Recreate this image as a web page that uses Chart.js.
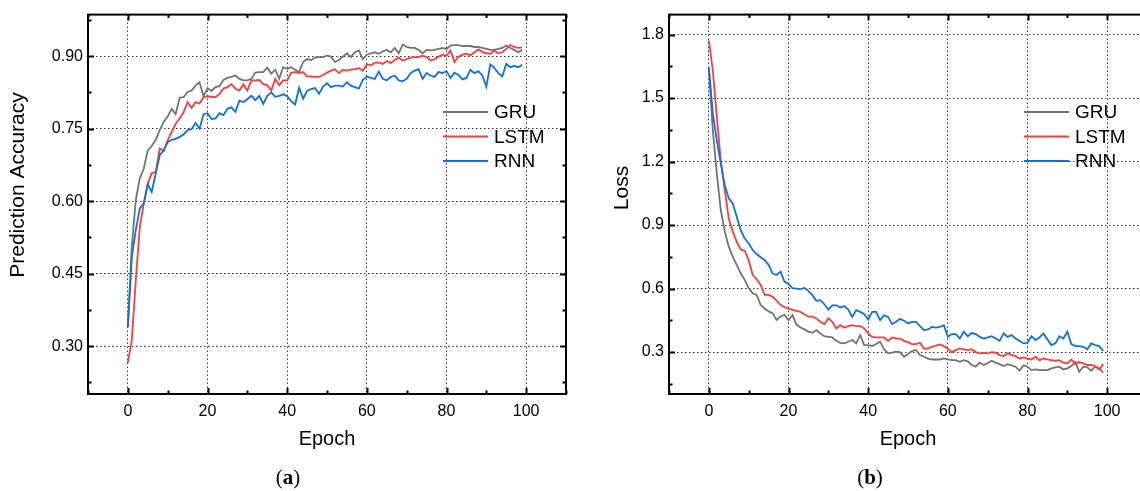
<!DOCTYPE html>
<html><head><meta charset="utf-8">
<script src="https://cdn.jsdelivr.net/npm/chart.js@4.4.1/dist/chart.umd.min.js"></script>
<style>
html,body{margin:0;padding:0;background:#fff;width:1140px;height:491px;overflow:hidden;}
body{position:relative;}
canvas{position:absolute;top:0;}
#ca{left:0}
#cb{left:581px}
.cap{position:absolute;top:465px;font:21px 'Liberation Serif',serif;color:#000;transform:translateX(-50%);white-space:nowrap;line-height:24px}
</style></head><body>
<canvas id="ca" width="580" height="491"></canvas>
<canvas id="cb" width="580" height="491"></canvas>
<div class="cap" style="left:288px">(<b>a</b>)</div>
<div class="cap" style="left:870px">(<b>b</b>)</div>
<script>
const epochs = [0,1,2,3,4,5,6,7,8,9,10,11,12,13,14,15,16,17,18,19,20,21,22,23,24,25,26,27,28,29,30,31,32,33,34,35,36,37,38,39,40,41,42,43,44,45,46,47,48,49,50,51,52,53,54,55,56,57,58,59,60,61,62,63,64,65,66,67,68,69,70,71,72,73,74,75,76,77,78,79,80,81,82,83,84,85,86,87,88,89,90,91,92,93,94,95,96,97,98,99];

const seriesNames = ['GRU','LSTM','RNN'];

const accGRU = [0.340,0.506,0.602,0.647,0.667,0.705,0.714,0.727,0.747,0.764,
0.775,0.791,0.780,0.814,0.815,0.826,0.829,0.839,0.846,0.817,
0.834,0.828,0.836,0.838,0.851,0.855,0.857,0.860,0.853,0.850,
0.850,0.853,0.866,0.867,0.867,0.876,0.864,0.872,0.853,0.877,
0.874,0.877,0.872,0.867,0.888,0.894,0.892,0.897,0.898,0.898,
0.901,0.899,0.888,0.892,0.899,0.906,0.898,0.908,0.912,0.894,
0.903,0.906,0.908,0.905,0.910,0.913,0.908,0.917,0.906,0.924,
0.919,0.917,0.917,0.913,0.906,0.913,0.912,0.913,0.915,0.917,
0.915,0.922,0.923,0.923,0.921,0.921,0.921,0.919,0.919,0.917,
0.915,0.913,0.913,0.915,0.917,0.922,0.917,0.913,0.908,0.913];

const accLSTM = [0.266,0.313,0.437,0.547,0.595,0.636,0.658,0.660,0.709,0.704,
0.726,0.743,0.760,0.771,0.784,0.805,0.793,0.805,0.802,0.815,
0.817,0.816,0.815,0.822,0.833,0.836,0.842,0.833,0.829,0.842,
0.829,0.850,0.850,0.851,0.842,0.840,0.829,0.853,0.840,0.850,
0.850,0.866,0.867,0.865,0.867,0.858,0.858,0.857,0.857,0.861,
0.866,0.870,0.873,0.865,0.872,0.870,0.872,0.873,0.875,0.870,
0.883,0.881,0.886,0.887,0.884,0.890,0.886,0.892,0.897,0.891,
0.894,0.897,0.898,0.898,0.901,0.898,0.891,0.894,0.899,0.903,
0.901,0.912,0.888,0.899,0.903,0.905,0.902,0.908,0.914,0.909,
0.906,0.905,0.911,0.906,0.908,0.915,0.923,0.919,0.917,0.918];

const accRNN = [0.339,0.485,0.540,0.585,0.595,0.635,0.619,0.657,0.695,0.705,
0.722,0.727,0.729,0.733,0.738,0.747,0.749,0.762,0.750,0.780,
0.782,0.770,0.771,0.782,0.778,0.791,0.794,0.785,0.808,0.805,
0.811,0.818,0.809,0.818,0.801,0.818,0.825,0.816,0.818,0.821,
0.817,0.807,0.800,0.835,0.812,0.828,0.832,0.834,0.822,0.837,
0.844,0.836,0.839,0.839,0.837,0.846,0.839,0.836,0.833,0.851,
0.858,0.855,0.853,0.868,0.853,0.850,0.857,0.860,0.850,0.848,
0.853,0.865,0.870,0.873,0.853,0.865,0.860,0.857,0.867,0.865,
0.869,0.855,0.866,0.861,0.852,0.855,0.872,0.865,0.869,0.860,
0.837,0.883,0.876,0.865,0.858,0.884,0.877,0.880,0.877,0.882];

const lossGRU = [1.640,1.348,1.143,0.971,0.869,0.798,0.751,0.712,0.672,0.641,
0.602,0.578,0.570,0.523,0.507,0.492,0.484,0.452,0.468,0.476,
0.450,0.475,0.430,0.416,0.407,0.397,0.391,0.404,0.388,0.375,
0.372,0.369,0.353,0.344,0.341,0.349,0.357,0.341,0.380,0.333,
0.333,0.328,0.338,0.349,0.313,0.294,0.297,0.302,0.300,0.278,
0.291,0.305,0.310,0.286,0.278,0.269,0.265,0.265,0.265,0.270,
0.265,0.262,0.262,0.254,0.262,0.256,0.239,0.231,0.250,0.239,
0.247,0.259,0.250,0.243,0.234,0.243,0.237,0.231,0.212,0.237,
0.231,0.215,0.218,0.215,0.215,0.215,0.223,0.228,0.231,0.218,
0.223,0.234,0.254,0.207,0.231,0.228,0.212,0.231,0.223,0.203];

const lossLSTM = [1.772,1.630,1.410,1.206,1.065,0.931,0.869,0.821,0.785,0.779,
0.735,0.664,0.644,0.617,0.570,0.570,0.562,0.543,0.523,0.512,
0.505,0.500,0.495,0.490,0.479,0.467,0.467,0.459,0.443,0.432,
0.459,0.443,0.412,0.427,0.416,0.423,0.427,0.423,0.423,0.412,
0.388,0.372,0.369,0.369,0.369,0.353,0.369,0.365,0.364,0.353,
0.347,0.338,0.338,0.344,0.317,0.317,0.325,0.331,0.336,0.328,
0.316,0.300,0.309,0.317,0.313,0.309,0.313,0.300,0.294,0.296,
0.294,0.300,0.297,0.286,0.281,0.294,0.287,0.281,0.270,0.275,
0.269,0.265,0.278,0.262,0.270,0.265,0.262,0.259,0.262,0.250,
0.247,0.265,0.243,0.253,0.247,0.239,0.239,0.234,0.218,0.243];

const lossRNN = [1.646,1.426,1.300,1.190,1.088,1.026,1.002,0.939,0.876,0.837,
0.814,0.782,0.763,0.748,0.735,0.712,0.672,0.664,0.680,0.633,
0.622,0.602,0.600,0.597,0.603,0.589,0.569,0.542,0.545,0.526,
0.501,0.521,0.521,0.510,0.517,0.501,0.466,0.498,0.490,0.479,
0.454,0.490,0.490,0.451,0.474,0.466,0.432,0.443,0.457,0.448,
0.435,0.443,0.443,0.423,0.404,0.407,0.419,0.416,0.419,0.427,
0.372,0.385,0.385,0.364,0.396,0.375,0.390,0.385,0.372,0.364,
0.369,0.375,0.364,0.353,0.388,0.372,0.380,0.364,0.353,0.341,
0.344,0.375,0.357,0.369,0.388,0.360,0.333,0.341,0.375,0.364,
0.396,0.338,0.328,0.328,0.325,0.313,0.341,0.333,0.328,0.306];

const xTicks = [0,20,40,60,80,100];
const xMinorTicks = [-10,10,30,50,70,90,110];
const accTicks = [0.30,0.45,0.60,0.75,0.90];
const accMinorTicks = [0.225,0.375,0.525,0.675,0.825,0.975];
const lossTicks = [0.3,0.6,0.9,1.2,1.5,1.8];
const lossMinorTicks = [0.15,0.45,0.75,1.05,1.35,1.65];

const COLORS = ['#737373','#ff3b3b','#1170e0'];
const FONT = "'Liberation Sans', Arial, sans-serif";

function framePlugin(cfg){
  return {
    id:'frame',
    afterDraw(chart){
      const {ctx, chartArea:a, scales:{x,y}} = chart;
      ctx.save();
      ctx.strokeStyle = '#000';
      ctx.lineWidth = 2;
      ctx.lineCap = 'butt';
      ctx.beginPath();
      const seg = (x1,y1,x2,y2)=>{ctx.moveTo(x1,y1);ctx.lineTo(x2,y2);};
      xTicks.forEach(v=>{const p=Math.round(x.getPixelForValue(v))+0.5; seg(p,a.bottom,p,a.bottom-6); seg(p,a.top,p,a.top+6);});
      xMinorTicks.forEach(v=>{const p=Math.round(x.getPixelForValue(v))+0.5; seg(p,a.bottom,p,a.bottom-3.5); seg(p,a.top,p,a.top+3.5);});
      cfg.yTicks.forEach(v=>{const p=Math.round(y.getPixelForValue(v))+0.5; seg(a.left,p,a.left+6,p); seg(a.right,p,a.right-6,p);});
      cfg.yMinor.forEach(v=>{const p=Math.round(y.getPixelForValue(v))+0.5; seg(a.left,p,a.left+3.5,p); seg(a.right,p,a.right-3.5,p);});
      ctx.stroke();
      ctx.strokeRect(a.left, a.top, a.right-a.left, a.bottom-a.top);
      // y axis title
      ctx.save();
      ctx.translate(cfg.titleX, cfg.titleY);
      ctx.rotate(-Math.PI/2);
      ctx.fillStyle = '#000';
      ctx.font = '21px ' + FONT;
      ctx.textAlign = 'center';
      ctx.textBaseline = 'middle';
      ctx.fillText(cfg.yTitle, 0, 0);
      ctx.restore();
      // legend
      const ly = [112,136.5,161];
      chart.data.datasets.forEach((d,i)=>{
        ctx.strokeStyle = d.borderColor;
        ctx.lineWidth = 2;
        ctx.beginPath(); ctx.moveTo(443,ly[i]); ctx.lineTo(488,ly[i]); ctx.stroke();
        ctx.fillStyle = '#000';
        ctx.font = '19px ' + FONT;
        ctx.textAlign = 'left';
        ctx.textBaseline = 'middle';
        ctx.fillText(d.label, 494, ly[i]+1);
      });
      ctx.restore();
    }
  };
}

function build(id, values, cfg){
  return new Chart(document.getElementById(id), {
    type:'line',
    data:{
      datasets: values.map((vals,k)=>({
        label: seriesNames[k],
        data: epochs.map((e,i)=>({x:e, y:vals[i]})),
        borderColor: COLORS[k], backgroundColor: COLORS[k],
        borderWidth: 1.8, pointRadius: 0, tension: 0, fill: false,
        order: 2-k
      }))
    },
    options:{
      responsive:false, maintainAspectRatio:false, animation:false, devicePixelRatio:1,
      layout:{padding:{top:14,right:14,left:0,bottom:0}},
      plugins:{legend:{display:false}, tooltip:{enabled:false}},
      scales:{
        x:{
          type:'linear', min:-10, max:110,
          afterBuildTicks: s=>{ s.ticks = xTicks.map(v=>({value:v})); },
          afterFit: s=>{ s.height = 97; },
          ticks:{padding:8, color:'#000', font:{family:FONT,size:16}, maxRotation:0, autoSkip:false, callback:v=>String(v)},
          grid:{color:'#333', lineWidth:1, drawTicks:false},
          border:{display:false, dash:[1.5,2.5]},
          title:{display:true, text:'Epoch', color:'#000', font:{family:FONT,size:20}, padding:{top:0,bottom:40}}
        },
        y:{
          type:'linear', min:cfg.yMin, max:cfg.yMax,
          afterBuildTicks: s=>{ s.ticks = cfg.yTicks.map(v=>({value:v})); },
          afterFit: s=>{ s.width = 88; },
          ticks:{padding:5, color:'#000', font:{family:FONT,size:16}, autoSkip:false, callback:v=>Number(v).toFixed(cfg.dec)},
          grid:{color:'#333', lineWidth:1, drawTicks:false},
          border:{display:false, dash:[1.5,2.5]},
          title:{display:false}
        }
      }
    },
    plugins:[framePlugin(cfg)]
  });
}

build('ca', [accGRU, accLSTM, accRNN], {yMin:0.201, yMax:0.986, yTicks:accTicks, yMinor:accMinorTicks, dec:2, yTitle:'Prediction Accuracy', titleX:18, titleY:185});
build('cb', [lossGRU, lossLSTM, lossRNN], {yMin:0.102, yMax:1.894, yTicks:lossTicks, yMinor:lossMinorTicks, dec:1, yTitle:'Loss', titleX:41, titleY:188});
</script>
</body></html>
